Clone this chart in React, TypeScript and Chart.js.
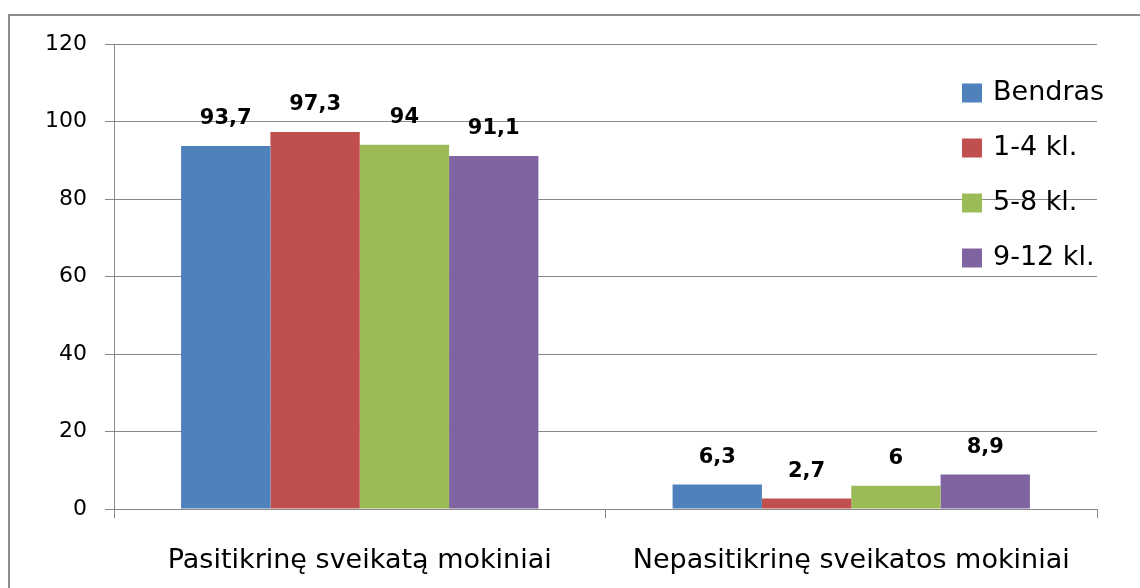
import React, { useEffect, useRef } from "react";
import { Chart, registerables } from "chart.js";

Chart.register(...registerables);

const categories = ["Pasitikrinę sveikatą mokiniai", "Nepasitikrinę sveikatos mokiniai"];
const seriesNames = ["Bendras", "1-4 kl.", "5-8 kl.", "9-12 kl."];
const bendras = [93.7, 6.3];
const kl14 = [97.3, 2.7];
const kl58 = [94, 6];
const kl912 = [91.1, 8.9];
const yTicks = [0, 20, 40, 60, 80, 100, 120];
const colors = ["#4F81BD", "#C0504D", "#9BBB59", "#8064A2"];

const FONT = "'DejaVu Sans', sans-serif";
const GRID = "#8a8a8a";

const framePlugin = {
  id: "frame",
  beforeDraw(chart: any) {
    const ctx = chart.ctx;
    ctx.save();
    ctx.strokeStyle = "#8c8c8c";
    ctx.lineWidth = 2;
    ctx.strokeRect(9, 15, chart.width + 20, chart.height + 20);
    ctx.restore();
  },
};

const valueLabelPlugin = {
  id: "valueLabels",
  afterDatasetsDraw(chart: any) {
    const ctx = chart.ctx;
    ctx.save();
    ctx.font = `bold 21px ${FONT}`;
    ctx.fillStyle = "#000";
    ctx.textAlign = "center";
    ctx.textBaseline = "middle";
    chart.data.datasets.forEach((ds: any, di: number) => {
      const meta = chart.getDatasetMeta(di);
      meta.data.forEach((el: any, i: number) => {
        const v = ds.data[i];
        ctx.fillText(String(v).replace(".", ","), el.x, el.y - 27);
      });
    });
    ctx.restore();
  },
};

const legendPlugin = {
  id: "customLegend",
  afterDraw(chart: any) {
    const ctx = chart.ctx;
    const area = chart.chartArea;
    const bx = area.right - 135;
    const y0 = area.top + 49;
    ctx.save();
    ctx.font = `27px ${FONT}`;
    ctx.textBaseline = "middle";
    ctx.textAlign = "left";
    chart.data.datasets.forEach((ds: any, i: number) => {
      const cy = y0 + i * 55;
      ctx.fillStyle = ds.backgroundColor;
      ctx.fillRect(bx, cy - 9.5, 20, 19);
      ctx.fillStyle = "#000";
      ctx.fillText(ds.label, bx + 31, cy);
    });
    ctx.restore();
  },
};

export default function App() {
  const ref = useRef<HTMLCanvasElement | null>(null);
  useEffect(() => {
    if (!ref.current) return;
    const seriesData = [bendras, kl14, kl58, kl912];
    const chart = new Chart(ref.current, {
      type: "bar",
      data: {
        labels: categories,
        datasets: seriesNames.map((name, i) => ({
          label: name,
          data: seriesData[i],
          backgroundColor: colors[i],
          borderWidth: 0,
          categoryPercentage: 0.727,
          barPercentage: 1,
        })),
      },
      options: {
        responsive: false,
        animation: false,
        devicePixelRatio: 1,
        layout: { padding: { top: 44, right: 43, bottom: 0, left: 0 } },
        plugins: {
          legend: { display: false },
          tooltip: { enabled: false },
        },
        scales: {
          x: {
            offset: true,
            grid: {
              offset: true,
              drawOnChartArea: false,
              drawTicks: true,
              tickLength: 9,
              color: GRID,
            },
            border: { display: true, color: GRID },
            ticks: {
              color: "#000",
              font: { family: FONT, size: 27 },
              padding: 27,
              maxRotation: 0,
            },
            afterFit(scale: any) {
              scale.height = 79;
            },
          },
          y: {
            min: 0,
            max: 120,
            afterBuildTicks(scale: any) {
              scale.ticks = yTicks.map((v) => ({ value: v }));
            },
            grid: { color: GRID, tickLength: 9, drawTicks: true },
            border: { display: true, color: GRID },
            ticks: {
              color: "#000",
              font: { family: FONT, size: 22 },
              padding: 18,
            },
            afterFit(scale: any) {
              scale.width = 114;
            },
          },
        },
      },
      plugins: [framePlugin, valueLabelPlugin, legendPlugin],
    });
    return () => chart.destroy();
  }, []);
  return (
    <div style={{ position: "fixed", left: 0, top: 0, width: 1140, height: 588, background: "#fff" }}>
      <canvas ref={ref} width={1140} height={588} style={{ width: 1140, height: 588, display: "block" }} />
    </div>
  );
}
